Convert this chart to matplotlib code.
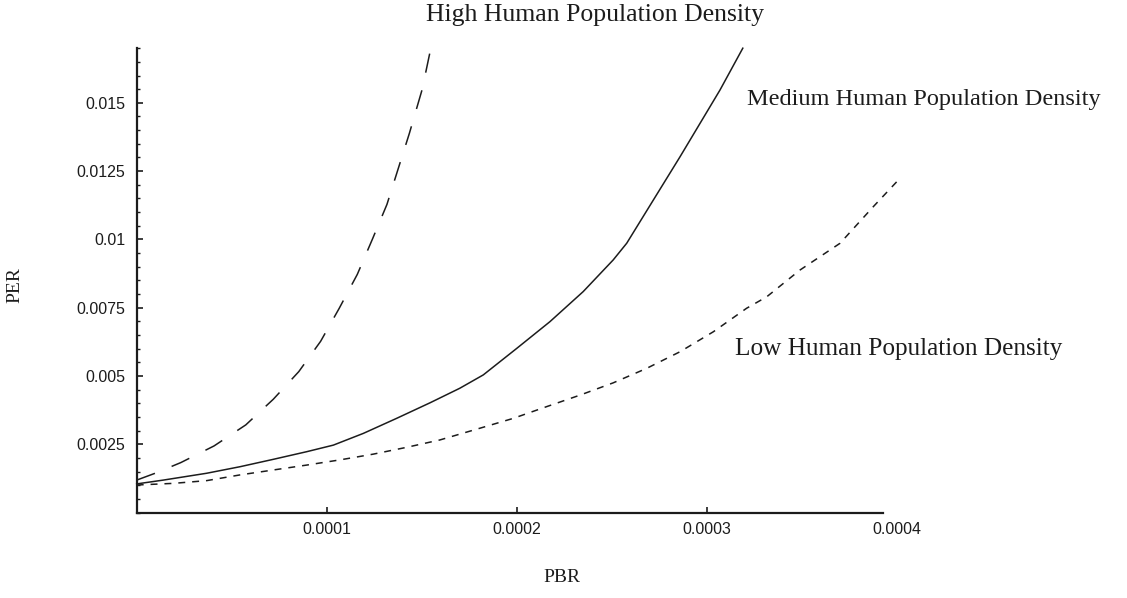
import matplotlib
matplotlib.use("Agg")
import matplotlib.pyplot as plt
from matplotlib.ticker import MultipleLocator, FixedLocator

plt.rcParams['lines.scale_dashes'] = False

# ---- data ----
high_x = [0, 0.0000097, 0.0000232, 0.0000407, 0.0000574, 0.0000719, 0.0000853,
          0.0000968, 0.0001066, 0.0001161, 0.000124, 0.0001317, 0.0001375,
          0.0001435, 0.0001502, 0.0001548]
high_y = [0.00119, 0.00144, 0.00183, 0.00244, 0.00321, 0.00415, 0.00516,
          0.00627, 0.00748, 0.00872, 0.0100, 0.01128, 0.01256,
          0.01388, 0.01548, 0.0170]

med_x = [0, 0.000014, 0.0000368, 0.0000544, 0.0000719, 0.0000895, 0.0001035,
         0.0001193, 0.0001368, 0.0001544, 0.00017, 0.0001824, 0.0002, 0.0002175,
         0.000235, 0.0002508, 0.0002579, 0.0002719, 0.000286, 0.0002965,
         0.000307, 0.000319]
med_y = [0.00105, 0.00119, 0.00144, 0.00168, 0.00195, 0.00223, 0.00247,
         0.0029, 0.00345, 0.00402, 0.00455, 0.00504, 0.00601, 0.00699,
         0.00809, 0.00925, 0.00986, 0.01144, 0.01303, 0.01425,
         0.01547, 0.0170]

low_x = [0, 0.0000193, 0.0000368, 0.0000544, 0.0000719, 0.0000895, 0.000107,
         0.0001245, 0.0001421, 0.0001596, 0.0001807, 0.0001982, 0.0002158,
         0.0002333, 0.0002508, 0.0002684, 0.000286, 0.0003035, 0.000321,
         0.0003316, 0.0003491, 0.0003702, 0.0003877, 0.0004]
low_y = [0.00101, 0.00107, 0.00117, 0.00138, 0.00156, 0.00174, 0.00193,
         0.00214, 0.00239, 0.00266, 0.00309, 0.00345, 0.00388,
         0.0043, 0.00475, 0.00528, 0.00589, 0.00662, 0.00748,
         0.0079, 0.00888, 0.00986, 0.0112, 0.01211]

x_ticks = [0.0001, 0.0002, 0.0003, 0.0004]
x_tick_labels = ["0.0001", "0.0002", "0.0003", "0.0004"]
y_ticks = [0.0025, 0.005, 0.0075, 0.01, 0.0125, 0.015]
y_tick_labels = ["0.0025", "0.005", "0.0075", "0.01", "0.0125", "0.015"]

title_text = "High Human Population Density"
medium_text = "Medium Human Population Density"
low_text = "Low Human Population Density"
x_label = "PBR"
y_label = "PER"

# ---- figure ----
W, H = 1127, 598
fig = plt.figure(figsize=(W / 100, H / 100), dpi=100)
ax = fig.add_axes([136.7 / W, 1 - 512.6 / H, (896.7 - 136.7) / W, (512.6 - 48.2) / H])

ink = "#1c1c1c"
ax.plot(high_x, high_y, color=ink, lw=1.1, dashes=[14, 13], clip_on=False)
ax.plot(med_x, med_y, color=ink, lw=1.1, clip_on=False)
ax.plot(low_x, low_y, color=ink, lw=1.1, dashes=[5, 5], clip_on=False)

ax.set_xlim(0, 0.0004)
ax.set_ylim(0, 0.017)

for s in ("top", "right"):
    ax.spines[s].set_visible(False)
for s in ("left", "bottom"):
    ax.spines[s].set_linewidth(1.6)
    ax.spines[s].set_color(ink)
ax.spines["bottom"].set_bounds(0, 0.000393)

ax.xaxis.set_major_locator(FixedLocator(x_ticks))
ax.set_xticklabels(x_tick_labels)
ax.yaxis.set_major_locator(FixedLocator(y_ticks))
ax.set_yticklabels(y_tick_labels)
ax.yaxis.set_minor_locator(MultipleLocator(0.0005))

for t in ax.get_xticklabels() + ax.get_yticklabels():
    t.set_fontfamily("Liberation Sans")
    t.set_fontsize(11.5)
    t.set_color(ink)

ax.tick_params(axis="both", which="major", direction="in", length=4.3, width=1.2, color=ink)
ax.tick_params(axis="y", which="minor", direction="in", length=2.2, width=1.0, color=ink)
ax.tick_params(axis="y", which="major", pad=8.4)
ax.tick_params(axis="x", which="major", pad=7)
ax.xaxis.get_major_ticks()[-1].tick1line.set_visible(False)

serif = dict(family="Liberation Serif", color=ink)
fig.text(595 / W, 1 - 21 / H, title_text, ha="center", va="baseline", fontsize=18.5, **serif)
fig.text(747 / W, 1 - 105 / H, medium_text, ha="left", va="baseline", fontsize=17.5, **serif)
fig.text(735 / W, 1 - 355 / H, low_text, ha="left", va="baseline", fontsize=18.2, **serif)
fig.text(562 / W, 1 - 578 / H, x_label, ha="center", va="center", fontsize=14, **serif)
fig.text(15 / W, 1 - 285 / H, y_label, ha="center", va="center", rotation=90, fontsize=14, **serif)

fig.savefig("out.png", dpi=100)
